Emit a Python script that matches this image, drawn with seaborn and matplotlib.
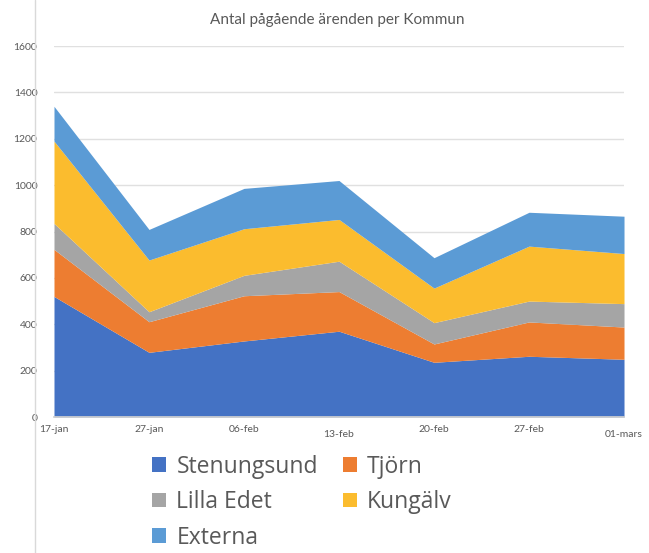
import matplotlib
matplotlib.use("Agg")
import matplotlib.pyplot as plt
import seaborn as sns
from matplotlib.lines import Line2D

# =========================
# Data
# =========================
dates = ["17-jan", "27-jan", "06-feb", "13-feb", "20-feb", "27-feb", "01-mars"]
stenungsund = [520, 279, 328, 370, 236, 262, 249]
tjorn = [203, 132, 195, 171, 79, 148, 139]
lilla_edet = [112, 43, 88, 131, 92, 90, 101]
kungalv = [355, 223, 201, 180, 149, 237, 216]
externa = [150, 132, 174, 168, 131, 146, 161]

labels = ["Stenungsund", "Tjörn", "Lilla Edet", "Kungälv", "Externa"]
colors = ["#4472C4", "#ED7D31", "#A5A5A5", "#FBBC2E", "#5B9BD5"]

# =========================
# Setup
# =========================
sns.set_theme(style="white")
plt.rcParams["font.family"] = ["Lato", "DejaVu Sans"]
TXT = "#595959"

fig = plt.figure(figsize=(6.49, 5.53), dpi=100)
ax = fig.add_axes([0.0832, 0.2459, 0.8783, 0.6709])

x = list(range(len(dates)))
ax.stackplot(x, stenungsund, tjorn, lilla_edet, kungalv, externa,
             colors=colors, labels=labels, linewidth=0, zorder=2)

ax.set_xlim(0, len(dates) - 1)
ax.set_ylim(0, 1600)
ax.set_yticks(range(0, 1601, 200))
ax.yaxis.grid(True, color="#E0E0E0", linewidth=1, zorder=0)
ax.set_axisbelow(True)
for s in ["top", "right", "left"]:
    ax.spines[s].set_visible(False)
ax.spines["bottom"].set_color("#D0D0D0")

ax.set_xticks(x)
ax.set_xticklabels(dates)
ax.tick_params(axis="x", length=3, color="#D0D0D0", labelsize=7.5, labelcolor=TXT, pad=3)
ax.tick_params(axis="y", length=0, labelsize=7.5, labelcolor=TXT, pad=12)
# staggered labels as in the original
for i, lab in enumerate(ax.get_xticklabels()):
    if i in (3, 6):
        lab.set_y(-0.012)

fig.text(0.52, 0.963, "Antal pågående ärenden per Kommun", ha="center", va="center",
         fontsize=11, color=TXT)

# left border line of the chart frame
fig.add_artist(Line2D([0.054, 0.054], [0.0, 1.0], color="#D9D9D9", linewidth=1))

# row-wise legend order like the original
handles, lbls = ax.get_legend_handles_labels()
order = [0, 2, 4, 1, 3]
leg = fig.legend([handles[i] for i in order], [lbls[i] for i in order], ncol=2,
                 loc="upper left", bbox_to_anchor=(0.203, 0.215),
                 frameon=False, prop={"family": ["Open Sans", "DejaVu Sans"], "size": 16.5},
                 handlelength=0.6, handleheight=0.6,
                 handletextpad=0.45, columnspacing=1.1, labelspacing=0.5)
for t in leg.get_texts():
    t.set_color(TXT)

fig.savefig("out.png", dpi=100)
